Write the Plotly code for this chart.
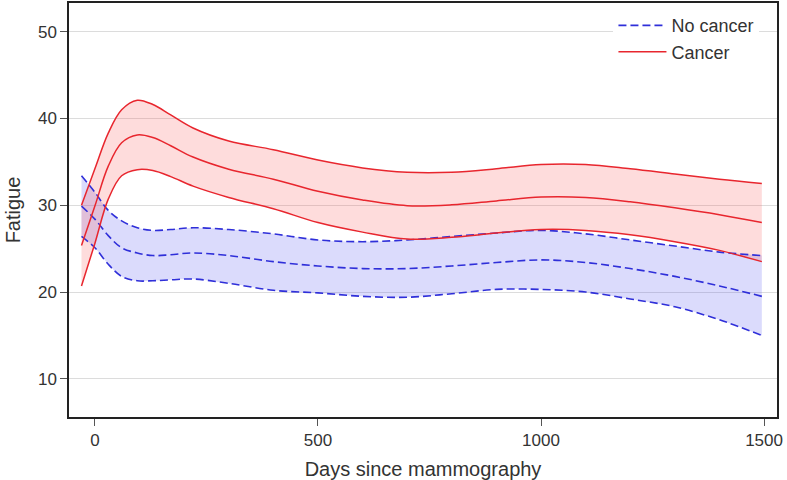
import plotly.graph_objects as go

days = [-30, 0, 30, 60, 95, 130, 170, 220, 300, 400, 500, 600, 700, 800, 900, 1000, 1100, 1200, 1300, 1400, 1495]

cancer_mean = [25.35, 29.9, 34.5, 37.2, 38.1, 37.8, 36.85, 35.55, 34.15, 33.0, 31.6, 30.6, 29.95, 30.05, 30.5, 30.95, 30.9, 30.4, 29.7, 28.9, 28.0]
cancer_upper = [30.0, 34.2, 38.3, 41.0, 42.1, 41.6, 40.4, 38.9, 37.4, 36.4, 35.2, 34.3, 33.8, 33.8, 34.2, 34.7, 34.7, 34.2, 33.6, 33.0, 32.5]
cancer_lower = [20.7, 25.6, 30.7, 33.4, 34.1, 34.0, 33.3, 32.2, 30.9, 29.6, 28.0, 26.9, 26.1, 26.3, 26.8, 27.2, 27.1, 26.6, 25.8, 24.8, 23.5]

nocancer_mean = [29.9, 28.4, 26.5, 25.1, 24.5, 24.2, 24.3, 24.5, 24.2, 23.5, 23.0, 22.7, 22.7, 23.0, 23.4, 23.7, 23.4, 22.7, 21.8, 20.7, 19.5]
nocancer_upper = [33.4, 31.5, 29.4, 28.2, 27.4, 27.1, 27.2, 27.4, 27.2, 26.7, 26.0, 25.8, 26.0, 26.4, 26.8, 27.1, 26.7, 26.0, 25.3, 24.6, 24.2]
nocancer_lower = [26.4, 25.1, 23.2, 21.8, 21.3, 21.3, 21.4, 21.5, 21.0, 20.2, 19.9, 19.5, 19.4, 19.8, 20.3, 20.3, 20.0, 19.2, 18.3, 16.8, 15.0]

x_ticks = [0, 500, 1000, 1500]
y_ticks = [10, 20, 30, 40, 50]

RED = "#E8262E"
BLUE = "#2F2FD9"
DASH = "8px,4px"
FONT = "Liberation Sans, Arial, sans-serif"

fig = go.Figure()

# No cancer band
fig.add_trace(go.Scatter(x=days, y=nocancer_lower, mode="lines", line=dict(width=0, shape="spline"),
                         showlegend=False, hoverinfo="skip"))
fig.add_trace(go.Scatter(x=days, y=nocancer_upper, mode="lines", line=dict(width=0, shape="spline"),
                         fill="tonexty", fillcolor="rgba(90,90,240,0.22)", showlegend=False, hoverinfo="skip"))
# Cancer band
fig.add_trace(go.Scatter(x=days, y=cancer_lower, mode="lines", line=dict(width=0, shape="spline"),
                         showlegend=False, hoverinfo="skip"))
fig.add_trace(go.Scatter(x=days, y=cancer_upper, mode="lines", line=dict(width=0, shape="spline"),
                         fill="tonexty", fillcolor="rgba(250,80,80,0.2)", showlegend=False, hoverinfo="skip"))

# No cancer lines
for ys, show in [(nocancer_mean, True), (nocancer_upper, False), (nocancer_lower, False)]:
    fig.add_trace(go.Scatter(x=days, y=ys, mode="lines", name="No cancer", legendgroup="nc",
                             showlegend=show,
                             line=dict(color=BLUE, width=1.6, dash=DASH, shape="spline")))
# Cancer lines
for ys, show in [(cancer_mean, True), (cancer_upper, False), (cancer_lower, False)]:
    fig.add_trace(go.Scatter(x=days, y=ys, mode="lines", name="Cancer", legendgroup="c",
                             showlegend=show,
                             line=dict(color=RED, width=1.5, shape="spline")))

title_font = dict(family=FONT, size=20, color="#333333")

fig.update_layout(
    width=787, height=480,
    margin=dict(l=69, r=10, t=3, b=63),
    paper_bgcolor="white", plot_bgcolor="white",
    font=dict(family=FONT, size=17, color="#333333"),
    legend=dict(x=0.769, y=0.99, xanchor="left", yanchor="top", bgcolor="white",
                itemwidth=48,
                borderwidth=0, font=dict(family=FONT, size=18, color="#333333"), tracegroupgap=0),
    xaxis=dict(range=[-58, 1529], tickvals=x_ticks, showgrid=False, zeroline=False,
               showline=True, linecolor="#222222", linewidth=1.5, mirror=True,
               ticks="outside", ticklen=7, tickcolor="#555555", automargin=False,
               title=dict(text="Days since mammography", font=title_font, standoff=19),
               tickfont=dict(family=FONT, size=17)),
    yaxis=dict(range=[5.6, 53.3], tickvals=y_ticks, showgrid=True, gridcolor="#DCDCDC",
               gridwidth=1, zeroline=False,
               showline=True, linecolor="#222222", linewidth=1.5, mirror=True,
               ticks="outside", ticklen=7, tickcolor="#555555", automargin=False,
               title=dict(text="Fatigue", font=title_font, standoff=12),
               tickfont=dict(family=FONT, size=17)),
)

fig.write_html("out.html", config={"displayModeBar": False},
               post_script="document.body.style.margin='0';")
